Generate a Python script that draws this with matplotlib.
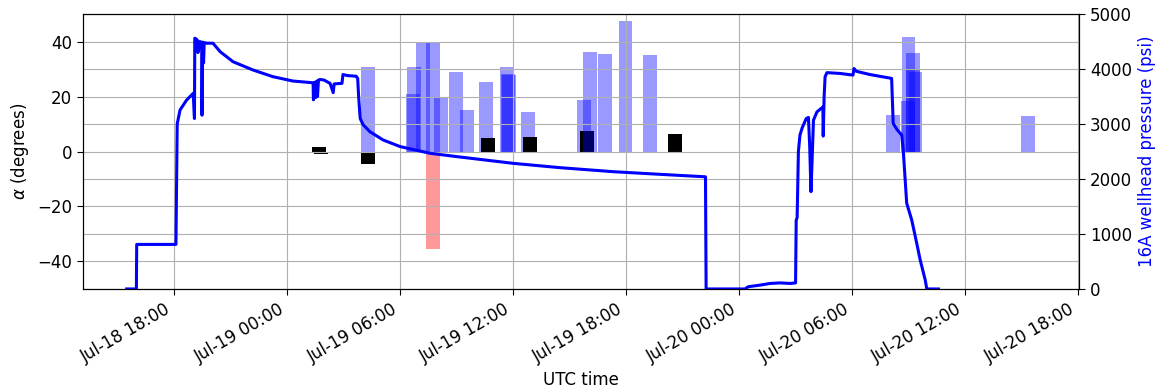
import pandas as pd
import matplotlib
matplotlib.use("Agg")
import matplotlib.pyplot as plt
import matplotlib.dates as mdates

plt.rcParams.update({
    "font.size": 12,
    "xtick.major.size": 4.5,
    "ytick.major.size": 4.5,
})

# Wellhead pressure log for well 16A (psi)
pressure_time = [
    "2021-07-18 15:29", "2021-07-18 16:00", "2021-07-18 16:01", "2021-07-18 18:06",
    "2021-07-18 18:10", "2021-07-18 18:19", "2021-07-18 18:40", "2021-07-18 19:01",
    "2021-07-18 19:05", "2021-07-18 19:06", "2021-07-18 19:10", "2021-07-18 19:15",
    "2021-07-18 19:16", "2021-07-18 19:23", "2021-07-18 19:28", "2021-07-18 19:29",
    "2021-07-18 19:31", "2021-07-18 19:34", "2021-07-18 19:36", "2021-07-18 19:45",
    "2021-07-18 20:04", "2021-07-18 20:27", "2021-07-18 21:08", "2021-07-18 22:12",
    "2021-07-18 23:15", "2021-07-19 00:19", "2021-07-19 01:23", "2021-07-19 01:24",
    "2021-07-19 01:28", "2021-07-19 01:31", "2021-07-19 01:34", "2021-07-19 01:37",
    "2021-07-19 01:40", "2021-07-19 01:45", "2021-07-19 01:58", "2021-07-19 02:04",
    "2021-07-19 02:17", "2021-07-19 02:27", "2021-07-19 02:30", "2021-07-19 02:55",
    "2021-07-19 02:58", "2021-07-19 03:14", "2021-07-19 03:40", "2021-07-19 03:45",
    "2021-07-19 03:48", "2021-07-19 03:53", "2021-07-19 04:02", "2021-07-19 04:24",
    "2021-07-19 05:06", "2021-07-19 06:00", "2021-07-19 07:36", "2021-07-19 09:11",
    "2021-07-19 12:00", "2021-07-19 14:30", "2021-07-19 17:19", "2021-07-19 19:48",
    "2021-07-19 22:13", "2021-07-19 22:15", "2021-07-20 00:19", "2021-07-20 00:29",
    "2021-07-20 01:07", "2021-07-20 01:39", "2021-07-20 02:11", "2021-07-20 02:43",
    "2021-07-20 03:00", "2021-07-20 03:02", "2021-07-20 03:05", "2021-07-20 03:09",
    "2021-07-20 03:14", "2021-07-20 03:21", "2021-07-20 03:34", "2021-07-20 03:41",
    "2021-07-20 03:45", "2021-07-20 03:49", "2021-07-20 03:53", "2021-07-20 03:57",
    "2021-07-20 04:08", "2021-07-20 04:27", "2021-07-20 04:28", "2021-07-20 04:31",
    "2021-07-20 04:34", "2021-07-20 04:40", "2021-07-20 05:22", "2021-07-20 06:03",
    "2021-07-20 06:06", "2021-07-20 06:13", "2021-07-20 06:57", "2021-07-20 08:06",
    "2021-07-20 08:11", "2021-07-20 08:23", "2021-07-20 08:38", "2021-07-20 08:43",
    "2021-07-20 08:54", "2021-07-20 09:10", "2021-07-20 09:26", "2021-07-20 09:37",
    "2021-07-20 09:53", "2021-07-20 09:58", "2021-07-20 10:35",
]
pressure_psi = [
    0, 0, 810, 810,
    3000, 3255, 3436, 3558,
    3100, 4560, 4550, 4520,
    4300, 4500, 4480, 3160,
    4490, 4110, 4480, 4470,
    4470, 4315, 4133, 3982,
    3861, 3782, 3750, 3440,
    3760, 3480, 3780, 3500,
    3800, 3810, 3800, 3780,
    3740, 3570, 3730, 3740,
    3900, 3880, 3870, 3830,
    3500, 3100, 2990, 2860,
    2710, 2590, 2467, 2400,
    2285, 2206, 2133, 2085,
    2040, 0, 0, 40,
    70, 100, 110, 100,
    110, 1250, 1300, 2500,
    2800, 2930, 3100, 3120,
    2600, 1770, 2400, 3070,
    3220, 3310, 2780, 3500,
    3860, 3935, 3920, 3890,
    4010, 3960, 3900, 3830,
    3010, 2900, 2800, 2527,
    1560, 1255, 830, 527,
    164, 0, 0,
]

# Alpha estimates, listed in the order they were drawn
alpha_time = [
    "2021-07-19 01:43", "2021-07-19 01:49", "2021-07-19 04:18", "2021-07-19 04:18",
    "2021-07-19 06:40", "2021-07-19 06:44", "2021-07-19 07:14", "2021-07-19 07:44",
    "2021-07-19 07:45", "2021-07-19 08:10", "2021-07-19 08:59", "2021-07-19 09:34",
    "2021-07-19 10:35", "2021-07-19 10:40", "2021-07-19 11:40", "2021-07-19 11:44",
    "2021-07-19 11:46", "2021-07-19 12:48", "2021-07-19 12:55", "2021-07-19 15:45",
    "2021-07-19 15:55", "2021-07-19 16:04", "2021-07-19 16:53", "2021-07-19 17:58",
    "2021-07-19 19:16", "2021-07-19 20:36", "2021-07-20 08:11", "2021-07-20 08:58",
    "2021-07-20 09:00", "2021-07-20 09:14", "2021-07-20 09:14", "2021-07-20 09:22",
    "2021-07-20 15:20",
]
alpha_deg = [
    1.5, -1.0, 30.6, -4.5,
    20.9, 30.6, 39.3, 39.3,
    -35.6, 19.7, 28.9, 15.1,
    25.4, 4.8, 30.6, 28.1,
    28.0, 14.4, 5.2, 18.7,
    7.4, 36.3, 35.6, 47.6,
    35.1, 6.2, 13.4, 18.4,
    41.7, 35.9, 29.6, 29.0,
    12.9,
]
alpha_kind = [
    "ref", "ref", "fit", "ref",
    "fit", "fit", "fit", "fit",
    "neg", "fit", "fit", "fit",
    "fit", "ref", "fit", "fit",
    "fit", "fit", "ref", "fit",
    "ref", "fit", "fit", "fit",
    "fit", "ref", "fit", "fit",
    "fit", "fit", "fit", "fit",
    "fit",
]

kind_style = {
    "fit": dict(color="blue", alpha=0.4),
    "neg": dict(color="red", alpha=0.4),
    "ref": dict(color="black", alpha=1.0),
}

p_t = mdates.date2num(pd.to_datetime(pressure_time))
a_t = mdates.date2num(pd.to_datetime(alpha_time))
bar_w = 44 / 1440  # days

fig, ax = plt.subplots(figsize=(11.58, 3.91), dpi=100)
fig.subplots_adjust(left=0.0717, right=0.9318, bottom=0.261, top=0.964)

for t, a, k in zip(a_t, alpha_deg, alpha_kind):
    ax.bar(t, a, width=bar_w, **kind_style[k])

ax.set_ylim(-50, 50)
ax.set_ylabel(r"$\alpha$ (degrees)")
ax.set_xlabel("UTC time")
ax.grid(True)

ax2 = ax.twinx()
ax2.plot(p_t, pressure_psi, color="blue", lw=2.2)
ax2.set_ylim(0, 5000)
ax2.set_ylabel("16A wellhead pressure (psi)", color="blue")
ax2.grid(True)

ax.set_xlim(mdates.date2num(pd.Timestamp("2021-07-18 13:10")),
            mdates.date2num(pd.Timestamp("2021-07-20 18:03")))
ax.xaxis.set_major_locator(mdates.HourLocator(byhour=[0, 6, 12, 18]))
ax.xaxis.set_major_formatter(mdates.DateFormatter("%b-%d %H:%M"))
for lbl in ax.get_xticklabels():
    lbl.set_rotation(30)
    lbl.set_ha("right")

fig.savefig("out.png", dpi=100)
